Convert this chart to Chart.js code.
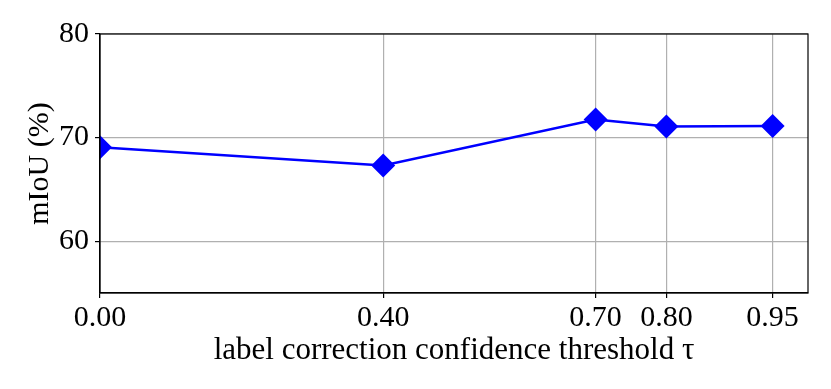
<!DOCTYPE html>
<html>
<head>
<meta charset="utf-8">
<script src="https://cdn.jsdelivr.net/npm/chart.js@4/dist/chart.umd.min.js"></script>
<style>
  html, body { margin: 0; padding: 0; background: #fff; }
  #wrap { width: 831px; height: 389px; }
</style>
</head>
<body>
<div id="wrap"><canvas id="c" width="831" height="389"></canvas></div>
<script>
const thresholds = [0.00, 0.40, 0.70, 0.80, 0.95];
const miou = [69.08, 67.3, 71.74, 71.06, 71.12];
const xTicks = [0.00, 0.40, 0.70, 0.80, 0.95];
const yTicks = [60, 70, 80];
const xTitle = 'label correction confidence threshold τ';
const yTitle = 'mIoU (%)';

Chart.defaults.color = '#000';
Chart.defaults.font.family = '"Liberation Serif", "Times New Roman", serif';

const boxPlugin = {
  id: 'box',
  afterDraw(chart) {
    const a = chart.chartArea, ctx = chart.ctx;
    ctx.save();
    ctx.strokeStyle = '#000';
    ctx.lineWidth = 1.2;
    ctx.strokeRect(a.left, a.top, a.right - a.left, a.bottom - a.top);
    ctx.restore();
  }
};

new Chart(document.getElementById('c'), {
  type: 'line',
  data: {
    datasets: [{
      data: thresholds.map((x, i) => ({ x: x, y: miou[i] })),
      borderColor: '#0000ff',
      backgroundColor: '#0000ff',
      borderWidth: 2.5,
      pointStyle: 'rectRot',
      pointRadius: 12,
      pointHoverRadius: 12,
      pointBorderWidth: 0,
      pointBackgroundColor: '#0000ff',
      tension: 0,
      clip: 0
    }]
  },
  options: {
    responsive: false,
    animation: false,
    events: [],
    layout: { padding: { left: 0, right: 23, top: 34, bottom: 0 } },
    plugins: { legend: { display: false }, tooltip: { enabled: false } },
    scales: {
      x: {
        type: 'linear',
        min: 0,
        max: 1.0,
        afterBuildTicks: s => { s.ticks = xTicks.map(v => ({ value: v })); },
        afterFit: s => { s.height = 96; },
        ticks: {
          callback: v => Number(v).toFixed(2),
          font: { size: 30 },
          padding: 2,
          maxRotation: 0,
          autoSkip: false
        },
        grid: { color: '#b0b0b0', lineWidth: 1.2, tickColor: '#000', tickLength: 5, tickWidth: 1.2 },
        border: { color: '#000', width: 1.2 },
        title: { display: true, text: xTitle, font: { size: 31 }, padding: { top: 0, bottom: 20 } }
      },
      y: {
        min: 55,
        max: 80,
        afterBuildTicks: s => { s.ticks = yTicks.map(v => ({ value: v })); },
        afterFit: s => { s.width = 100; },
        ticks: { font: { size: 30 }, padding: 6 },
        grid: { color: '#b0b0b0', lineWidth: 1.2, tickColor: '#000', tickLength: 5, tickWidth: 1.2 },
        border: { color: '#000', width: 1.2 },
        title: { display: true, text: yTitle, font: { size: 30 }, padding: { top: 22, bottom: 0 } }
      }
    }
  },
  plugins: [boxPlugin]
});
</script>
</body>
</html>
